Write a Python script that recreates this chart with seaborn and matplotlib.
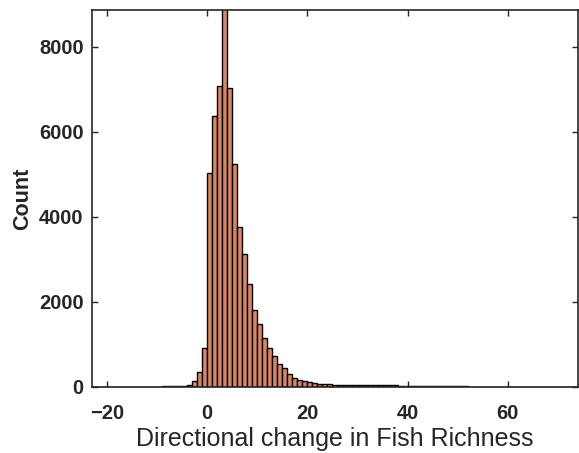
import numpy as np
import pandas as pd
import seaborn as sns
import matplotlib.pyplot as plt

# Histogram of directional change in fish richness (1-unit bins)
bin_left = list(range(-23, 74))
counts = [
    # -23 .. -4
    4, 3, 5, 4, 5, 6, 6, 7, 8, 8, 9, 9, 10, 11, 12, 14, 15, 17, 25, 55,
    # -3 .. 5
    140, 360, 915, 5035, 6380, 7080, 9300, 7040, 5250,
    # 6 .. 16
    3765, 3140, 2420, 1810, 1475, 1160, 910, 735, 545, 440, 315,
    # 17 .. 30
    215, 170, 140, 112, 92, 80, 70, 62, 56, 52, 50, 48, 46, 44,
    # 31 .. 45
    43, 42, 40, 40, 38, 37, 36, 35, 34, 32, 30, 28, 27, 25, 23,
    # 46 .. 60
    22, 20, 18, 16, 14, 12, 11, 10, 9, 9, 8, 8, 7, 7, 6,
    # 61 .. 73
    6, 6, 5, 5, 5, 5, 4, 4, 4, 4, 3, 3, 3,
]
x_ticks = [-20, 0, 20, 40, 60]
y_ticks = [0, 2000, 4000, 6000, 8000]

df = pd.DataFrame({'change': np.array(bin_left) + 0.5, 'count': counts})

sns.set_style('ticks')
plt.rcParams['font.family'] = ['Liberation Sans', 'DejaVu Sans']
text_col = '#262626'

fig = plt.figure(figsize=(5.79, 4.53), dpi=100)
ax = fig.add_axes([92 / 579, 66 / 453, 486 / 579, 377 / 453])

sns.histplot(data=df, x='change', weights='count', binwidth=1, binrange=(-23, 74),
             ax=ax, color='#D98664', alpha=1, edgecolor='black', linewidth=1.0)

ax.set_xlim(-23.0, 74)
ax.set_ylim(0, 8870)
ax.set_xticks(x_ticks)
ax.set_yticks(y_ticks)
ax.tick_params(direction='in', top=True, right=True, length=4, width=1,
               labelsize=14.5, colors=text_col)
ax.tick_params(axis='x', pad=12)
ax.tick_params(axis='y', pad=6)
for lbl in ax.get_xticklabels() + ax.get_yticklabels():
    lbl.set_fontweight('bold')
for s in ax.spines.values():
    s.set_visible(True)
    s.set_color(text_col)
    s.set_linewidth(1.2)

ax.set_xlabel('Directional change in Fish Richness', fontsize=18, color=text_col, labelpad=3)
ax.set_ylabel('Count', fontsize=15.5, fontweight='bold', color=text_col, labelpad=4)

fig.savefig('out.png', dpi=100)
